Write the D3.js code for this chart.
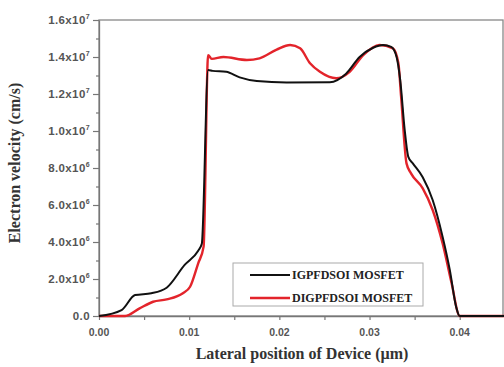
<!DOCTYPE html>
<html>
<head>
<meta charset="utf-8">
<script src="https://cdn.jsdelivr.net/npm/d3@7"></script>
<style>
	body { margin: 0; background: #fff; }
	svg { display: block; }
	.tick-label { font-family: 'Liberation Sans', Arial, sans-serif; font-weight: bold; font-size: 10.5px; fill: #555; }
	.y-label { font-size: 11.5px; letter-spacing: 0.4px; }
	.axis-title { font-family: 'Liberation Serif', 'Times New Roman', serif; font-weight: bold; font-size: 16px; fill: #333; }
	.legend-text { font-family: 'Liberation Serif', 'Times New Roman', serif; font-weight: bold; font-size: 12px; fill: #222; }
</style>
</head>
<body>
<div id="chart"></div>
<script>
// DATA (x in µm, y in 10^6 cm/s)
const igX = [0, 0.0025, 0.004, 0.0058, 0.0075, 0.0095, 0.011, 0.0114, 0.0121, 0.0126, 0.0141, 0.0156, 0.0175, 0.0208, 0.0256, 0.0274, 0.0289, 0.0304, 0.0315, 0.0324, 0.033, 0.0334, 0.0339, 0.0343, 0.0348, 0.0359, 0.037, 0.0381, 0.0389, 0.0396, 0.04, 0.045];
const igY = [0, 0.32, 1.13, 1.23, 1.53, 2.76, 3.53, 3.9, 13.3, 13.25, 13.2, 12.9, 12.7, 12.62, 12.64, 13.1, 14.0, 14.5, 14.65, 14.55, 14.0, 12.76, 10.05, 8.6, 8.25, 7.5, 6.27, 4.29, 2.49, 0.5, 0, 0];

const digX = [0, 0.0029, 0.0045, 0.006, 0.0075, 0.0093, 0.0101, 0.011, 0.0116, 0.0121, 0.0125, 0.0138, 0.0164, 0.0178, 0.0197, 0.0212, 0.0223, 0.0234, 0.0245, 0.0263, 0.0278, 0.0293, 0.0311, 0.0326, 0.0332, 0.0335, 0.0341, 0.0346, 0.0359, 0.037, 0.0381, 0.0391, 0.04, 0.045];
const digY = [0, 0, 0.41, 0.77, 0.9, 1.23, 1.58, 2.85, 3.75, 14.1, 13.9, 14.0, 13.84, 13.93, 14.4, 14.65, 14.47, 13.66, 13.2, 12.85, 13.2, 14.1, 14.65, 14.47, 13.66, 11.85, 8.25, 7.71, 6.9, 5.73, 3.93, 1.77, 0, 0];

const seriesNames = ['IGPFDSOI MOSFET', 'DIGPFDSOI MOSFET'];
const seriesColours = ['#111111', '#e3242b'];

const xTicks = [0, 0.01, 0.02, 0.03, 0.04];
const xTickLabels = ['0.00', '0.01', '0.02', '0.03', '0.04'];
const yTicks = [0, 2, 4, 6, 8, 10, 12, 14, 16];
const yTickText = ['0.0', '2.0x10', '4.0x10', '6.0x10', '8.0x10', '1.0x10', '1.2x10', '1.4x10', '1.6x10'];
const yTickExp = ['', '6', '6', '6', '6', '7', '7', '7', '7'];

// LAYOUT
const width = 504, height = 367;
const margin = { top: 20, right: 1, bottom: 51, left: 99 };

const svg = d3.select('#chart')
	.append('svg')
	.attr('width', width)
	.attr('height', height);

const xScale = d3.scaleLinear()
	.domain([0, 0.0448])
	.range([margin.left, width - margin.right]);

const yScale = d3.scaleLinear()
	.domain([0, 16])
	.range([height - margin.bottom, margin.top]);

// frame
svg.append('rect')
	.attr('x', xScale(0))
	.attr('y', yScale(16))
	.attr('width', xScale(0.0448) - xScale(0))
	.attr('height', yScale(0) - yScale(16))
	.attr('fill', 'none')
	.attr('stroke', '#888')
	.attr('stroke-width', 1.3);

// x axis
const xAxisG = svg.append('g')
	.attr('transform', `translate(0, ${yScale(0)})`)
	.call(d3.axisBottom(xScale)
		.tickValues(d3.range(0, 0.045, 0.005))
		.tickSize(4)
		.tickSizeOuter(0)
		.tickFormat(''));
xAxisG.select('.domain').attr('stroke', '#777').attr('stroke-width', 1.3);
xAxisG.selectAll('.tick line').attr('stroke', '#777').attr('stroke-width', 1.2);

svg.append('g')
	.selectAll('text')
	.data(xTicks)
	.join('text')
	.attr('class', 'tick-label')
	.attr('x', d => xScale(d))
	.attr('y', yScale(0) + 20)
	.attr('text-anchor', 'middle')
	.text((d, i) => xTickLabels[i]);

// y axis
const yAxisG = svg.append('g')
	.attr('transform', `translate(${xScale(0)}, 0)`)
	.call(d3.axisLeft(yScale)
		.tickValues(d3.range(0, 17, 1))
		.tickSize(4)
		.tickSizeOuter(0)
		.tickFormat(''));
yAxisG.select('.domain').attr('stroke', '#777').attr('stroke-width', 1.3);
yAxisG.selectAll('.tick line')
	.attr('stroke', '#777')
	.attr('stroke-width', 1.2)
	.attr('x2', d => d % 2 === 0 ? -6 : -3);

const yLabels = svg.append('g')
	.selectAll('text')
	.data(yTicks)
	.join('text')
	.attr('class', 'tick-label y-label')
	.attr('x', xScale(0) - 9)
	.attr('y', d => yScale(d) + 4)
	.attr('text-anchor', 'end');
yLabels.append('tspan').text((d, i) => yTickText[i]);
yLabels.append('tspan')
	.attr('dy', -5)
	.attr('font-size', '7px')
	.text((d, i) => yTickExp[i]);

// axis titles
svg.append('text')
	.attr('class', 'axis-title')
	.attr('x', 302)
	.attr('y', 359)
	.attr('text-anchor', 'middle')
	.text('Lateral position of Device (µm)');

svg.append('text')
	.attr('class', 'axis-title')
	.attr('transform', 'translate(20, 163) rotate(-90)')
	.attr('text-anchor', 'middle')
	.text('Electron velocity (cm/s)');

// lines
const line = d3.line()
	.x(d => xScale(d[0]))
	.y(d => yScale(d[1]))
	.curve(d3.curveMonotoneX);

const series = [d3.zip(igX, igY), d3.zip(digX, digY)];

svg.append('g')
	.selectAll('path')
	.data([series[1], series[0]])
	.join('path')
	.attr('fill', 'none')
	.attr('stroke', (d, i) => i === 0 ? seriesColours[1] : seriesColours[0])
	.attr('stroke-width', (d, i) => i === 0 ? 2.4 : 2)
	.attr('stroke-linejoin', 'round')
	.attr('d', line);

// legend
const legend = svg.append('g');
legend.append('rect')
	.attr('x', 233)
	.attr('y', 263)
	.attr('width', 190)
	.attr('height', 43)
	.attr('fill', '#fff')
	.attr('stroke', '#aaa')
	.attr('stroke-width', 1);

seriesNames.forEach((name, i) => {
	const y = 275 + i * 23;
	legend.append('line')
		.attr('x1', 250)
		.attr('x2', 290)
		.attr('y1', y)
		.attr('y2', y)
		.attr('stroke', seriesColours[i])
		.attr('stroke-width', i === 1 ? 2.4 : 2);
	legend.append('text')
		.attr('class', 'legend-text')
		.attr('x', 292)
		.attr('y', y + 4)
		.text(name);
});
</script>
</body>
</html>
